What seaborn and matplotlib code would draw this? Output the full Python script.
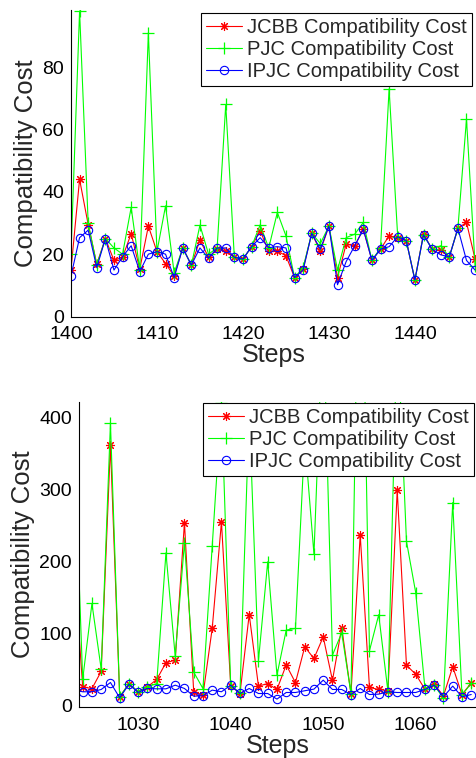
import numpy as np
import pandas as pd
import matplotlib
matplotlib.use("Agg")
import matplotlib.pyplot as plt
import seaborn as sns

# ---------------- data ----------------
steps_top = list(range(1400, 1448))
jcbb_top = [15, 44, 29.5, 16.8, 25, 18, 19, 26.6, 15.2, 29, 20.8, 17, 13, 22, 16.5, 24.5,
            19, 21.5, 21, 19, 18.4, 22.4, 27.5, 20.9, 21, 19.5, 12.5, 15.2, 26.7, 21, 29, 12.5,
            23.2, 22.7, 28, 18, 21.6, 25.9, 25.1, 24.3, 11.7, 26.5, 21.6, 21.3, 19.1, 28.3, 30.2, 18.4]
pjc_top = [20, 98, 30, 16.5, 25, 22, 20, 35, 15, 91, 20.8, 35.5, 14, 22, 16.5, 29.3,
           20, 22, 68, 19, 18.4, 22.4, 29.4, 22, 33.4, 25.9, 12.5, 15.7, 26.7, 23.4, 29, 14.9,
           25.3, 26.4, 30.2, 18, 22, 73, 25.6, 24.3, 11.7, 26.2, 21.6, 22.7, 19.1, 28.3, 63.3, 16.3]
ipjc_top = [13, 25.3, 27.7, 15.7, 25, 14.9, 19.2, 22.7, 14.4, 20, 20.8, 20, 12.5, 22, 16.5, 22,
            18.7, 22, 22, 19, 18.4, 22.4, 25.3, 22.1, 22.4, 22, 12.5, 14.9, 26.7, 21.6, 29, 10.2,
            17.6, 22.7, 28, 18, 21.6, 22.4, 25.6, 24.3, 11.7, 26.2, 21.6, 19.8, 19.1, 28.3, 18, 14.9]

steps_bot = list(range(1023, 1067))
jcbb_bot = [210, 25.5, 23, 47, 362, 11.6, 30, 18.6, 25.5, 35.7, 59, 62.6, 254, 18.6, 14, 106.7,
            255, 27, 16, 126, 26.5, 30, 21.8, 56, 31.3, 81, 65, 95, 34.5, 108, 16, 237,
            24.6, 21.8, 20, 299, 55.5, 43, 22, 28.8, 13, 53.4, 14.8, 31]
pjc_bot = [395, 35.7, 141.5, 50, 393, 11.6, 30, 18.6, 25.5, 30, 212, 68, 226, 46, 23, 221,
           421, 27, 17, 410, 61.7, 199.6, 41.8, 104.5, 106.8, 370, 210, 550, 69.6, 100.7, 16, 800,
           75.7, 126, 18.6, 530, 228, 156.5, 23, 27.8, 9.3, 282, 14, 30.5]
ipjc_bot = [21, 18.6, 18.6, 21.8, 31.5, 10.2, 29, 17.6, 23.2, 22.7, 22.7, 27.8, 23.2, 12.5, 13, 20.9,
            18.6, 27.8, 16.2, 23.2, 16.2, 16.2, 8.4, 17.6, 17.6, 20, 22.3, 34.8, 21.8, 21.8, 14.8, 23.2,
            14.8, 15.3, 18.6, 17.6, 17.6, 17.6, 21.8, 27.8, 11.6, 26.5, 11.6, 14.8]

labels = ["JCBB Compatibility Cost", "PJC Compatibility Cost", "IPJC Compatibility Cost"]

# ---------------- style ----------------
sns.set_style("white")
plt.rcParams['font.family'] = ['Liberation Sans', 'DejaVu Sans']
plt.rcParams['axes.linewidth'] = 0.8

fig = plt.figure(figsize=(4.77, 7.58), dpi=100)
ax1 = fig.add_axes([0.1488, 0.5824, 0.849, 0.4044])
ax2 = fig.add_axes([0.1656, 0.0669, 0.832, 0.4028])

ast = (8, 2, 0)
RED, GREEN, BLUE = (1, 0, 0), (0, 1, 0), (0, 0, 1)
styles = [
    dict(color=RED, marker=ast, markersize=6.5, markeredgewidth=0.8, markeredgecolor=RED),
    dict(color=GREEN, marker='+', markersize=8, markeredgewidth=0.9, markeredgecolor=GREEN),
    dict(color=BLUE, marker='o', markersize=6, markerfacecolor='none', markeredgewidth=0.8,
         markeredgecolor=BLUE),
]


def draw(ax, steps, series, xlim, ylim, yticks, xticks, anchor):
    for lab, vals, st in zip(labels, series, styles):
        df = pd.DataFrame({"Steps": steps, "Cost": vals})
        sns.lineplot(data=df, x="Steps", y="Cost", ax=ax, label=lab, linewidth=0.8, **st)
    ax.set_xlim(*xlim)
    ax.set_ylim(*ylim)
    ax.set_xticks(xticks)
    ax.set_yticks(yticks)
    ax.tick_params(direction='in', length=3, width=0.8, labelsize=14, colors='black')
    ax.tick_params(axis='x', pad=7)
    ax.tick_params(axis='y', pad=5)
    for s in ['top', 'right']:
        ax.spines[s].set_visible(False)
    for s in ['left', 'bottom']:
        ax.spines[s].set_color('black')
    ax.set_xlabel("Steps", fontsize=18, labelpad=0)
    ax.set_ylabel("Compatibility Cost", fontsize=18.5, labelpad=3)
    leg = ax.legend(loc='upper right', bbox_to_anchor=anchor, borderaxespad=0,
                    fontsize=14.5, frameon=True, fancybox=False, framealpha=1,
                    edgecolor='black', handlelength=1.8, handletextpad=0.25,
                    labelspacing=0.15, borderpad=0.25)
    leg.get_frame().set_linewidth(0.8)
    leg.set_zorder(10)


draw(ax1, steps_top, [jcbb_top, pjc_top, ipjc_top], (1400, 1447.1), (0, 98.3),
     [0, 20, 40, 60, 80], [1400, 1410, 1420, 1430, 1440], (0.99, 0.99))
draw(ax2, steps_bot, [jcbb_bot, pjc_bot, ipjc_bot], (1023.6, 1066.5), (-3, 422),
     [0, 100, 200, 300, 400], [1030, 1040, 1050, 1060], (0.995, 0.998))

fig.savefig("out.png", dpi=100)
